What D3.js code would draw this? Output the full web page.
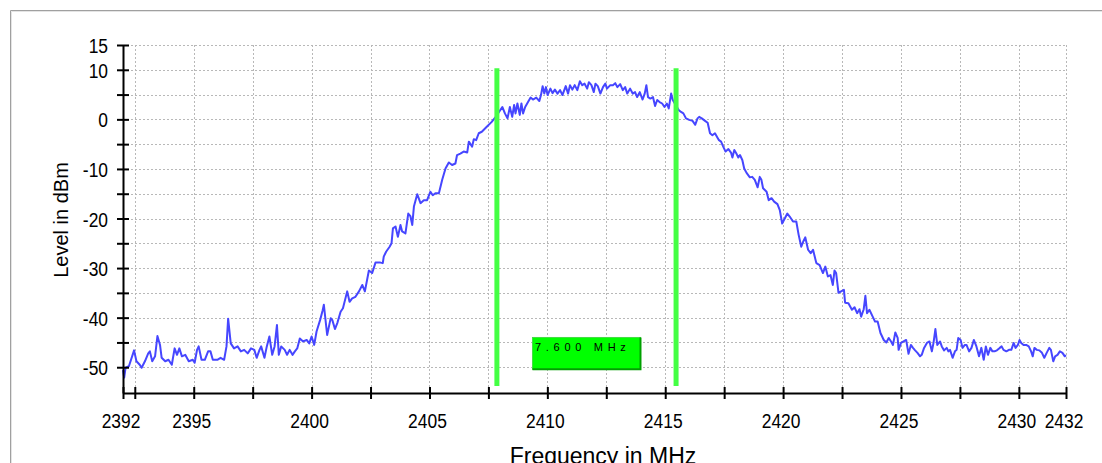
<!DOCTYPE html>
<html><head><meta charset="utf-8">
<script src="https://cdn.jsdelivr.net/npm/d3@7/dist/d3.min.js"></script>
<style>html,body{margin:0;padding:0;background:#fff;overflow:hidden}</style>
</head><body><svg id="c" width="1102" height="463"></svg>
<script>
// ---- data ----
const trace = [
[2392.00,-50.6],[2392.05,-52.1],[2392.11,-50.1],[2392.25,-49.8],[2392.47,-46.6],[2392.57,-48.8],[2392.71,-49.5],[2392.79,-50.1],[2392.93,-48.8],[2393.07,-47.2],[2393.14,-46.8],[2393.24,-48.8],[2393.36,-47.8],[2393.46,-43.7],[2393.57,-45.5],[2393.64,-48.1],[2393.79,-48.8],[2393.93,-48.5],[2394.07,-49.5],[2394.19,-46.2],[2394.29,-47.5],[2394.39,-46.2],[2394.50,-47.8],[2394.64,-47.5],[2394.79,-48.8],[2394.96,-48.5],[2395.04,-49.1],[2395.14,-46.5],[2395.21,-45.8],[2395.33,-48.5],[2395.47,-48.5],[2395.61,-46.8],[2395.71,-46.8],[2395.81,-48.5],[2396.00,-48.5],[2396.14,-48.1],[2396.29,-48.5],[2396.39,-45.8],[2396.46,-40.2],[2396.57,-45.2],[2396.71,-46.2],[2396.86,-45.8],[2397.00,-46.8],[2397.14,-46.5],[2397.29,-47.2],[2397.43,-46.2],[2397.57,-46.5],[2397.67,-48.1],[2397.79,-46.5],[2397.86,-45.8],[2398.00,-48.1],[2398.10,-45.8],[2398.21,-43.8],[2398.33,-47.5],[2398.43,-45.8],[2398.53,-41.5],[2398.61,-47.5],[2398.71,-45.8],[2398.86,-46.5],[2398.96,-47.5],[2399.07,-46.5],[2399.19,-47.5],[2399.29,-46.8],[2399.39,-46.2],[2399.50,-44.2],[2399.64,-44.8],[2399.79,-44.5],[2399.90,-45.2],[2400.00,-43.8],[2400.11,-45.5],[2400.21,-42.8],[2400.36,-40.5],[2400.47,-38.5],
[2400.52,-37.4],[2400.66,-43.5],[2400.81,-40.1],[2400.88,-40.5],[2400.99,-42.3],[2401.09,-41.1],[2401.23,-38.8],[2401.33,-38.1],[2401.51,-34.7],[2401.61,-36.8],[2401.72,-36.1],[2401.86,-35.8],[2402.01,-34.7],[2402.15,-33.4],[2402.26,-34.7],[2402.43,-30.5],[2402.57,-31.0],[2402.71,-28.9],[2402.92,-28.9],[2403.02,-29.0],[2403.06,-27.7],[2403.16,-26.7],[2403.31,-25.7],[2403.39,-25.0],[2403.45,-22.0],[2403.56,-21.6],[2403.66,-23.7],[2403.77,-21.3],[2403.84,-22.6],[2403.98,-23.0],[2404.10,-19.0],[2404.19,-19.5],[2404.27,-21.3],[2404.34,-17.6],[2404.48,-15.1],[2404.62,-16.9],[2404.76,-16.3],[2404.90,-16.3],[2405.04,-14.6],[2405.14,-15.3],[2405.25,-14.9],[2405.40,-14.9],[2405.54,-12.2],[2405.68,-9.9],[2405.82,-8.7],[2405.96,-9.2],[2406.10,-8.9],[2406.17,-7.2],[2406.31,-6.9],[2406.45,-6.5],[2406.60,-6.7],[2406.67,-4.5],[2406.81,-5.5],[2406.88,-4.0],[2406.98,-4.2],[2407.09,-2.8],
[2407.22,-2.5],[2407.43,-1.5],[2407.64,-0.5],[2407.81,0.5],[2408.09,2.5],[2408.20,1.2],[2408.31,0.2],[2408.41,2.5],[2408.51,0.5],[2408.59,2.9],[2408.65,1.2],[2408.73,3.2],[2408.83,0.9],[2408.90,3.2],[2408.97,1.2],[2409.06,2.5],[2409.18,3.5],[2409.29,4.4],[2409.39,4.0],[2409.53,4.4],[2409.66,3.7],[2409.73,4.9],[2409.80,6.7],[2409.87,5.2],[2409.94,6.5],[2410.01,4.9],[2410.13,6.2],[2410.22,5.3],[2410.32,6.0],[2410.43,5.2],[2410.54,5.9],[2410.64,4.9],[2410.78,6.7],[2410.88,5.2],[2410.96,6.9],[2411.06,6.0],[2411.16,6.9],[2411.27,5.9],[2411.38,7.7],[2411.48,6.9],[2411.58,7.2],[2411.69,6.2],[2411.76,7.5],[2411.87,6.9],[2411.97,5.5],[2412.04,7.2],[2412.14,6.7],[2412.25,5.2],[2412.36,6.5],[2412.46,7.2],[2412.53,6.2],[2412.67,6.9],[2412.78,6.9],[2412.88,7.3],[2412.97,6.5],[2413.09,7.1],[2413.20,5.9],[2413.30,6.5],[2413.39,5.2],[2413.51,6.2],[2413.62,5.2],[2413.72,5.5],[2413.81,4.5],[2413.92,5.5],[2414.04,4.0],[2414.13,5.2],[2414.20,6.9],[2414.27,4.5],[2414.37,4.2],[2414.48,4.5],[2414.57,2.7],[2414.66,3.9],[2414.76,3.5],[2414.87,3.2],[2414.97,2.5],[2415.07,3.2],[2415.15,2.2],[2415.25,5.2],[2415.32,3.9],[2415.57,1.9],[2415.67,1.5],[2415.77,1.2],[2415.88,0.2],[2416.02,-0.1],[2416.16,-0.3],[2416.27,-1.1],[2416.37,0.2],
[2416.44,0.5],[2416.55,0.2],[2416.69,-0.3],[2416.80,-0.7],[2416.90,-2.8],[2417.00,-3.2],[2417.11,-2.8],[2417.23,-3.8],[2417.28,-4.2],[2417.37,-4.5],[2417.46,-5.5],[2417.56,-6.5],[2417.68,-6.0],[2417.79,-6.7],[2417.85,-7.7],[2417.93,-6.2],[2418.03,-7.0],[2418.10,-7.7],[2418.17,-7.2],[2418.27,-8.2],[2418.35,-9.9],[2418.45,-10.8],[2418.59,-11.7],[2418.69,-11.6],[2418.80,-12.2],[2418.92,-13.7],[2419.01,-11.6],[2419.08,-12.2],[2419.15,-13.9],[2419.30,-14.6],[2419.39,-16.3],[2419.51,-15.9],[2419.62,-16.6],[2419.76,-17.1],[2419.86,-18.3],[2419.96,-21.0],[2420.07,-20.0],[2420.18,-19.0],[2420.28,-19.6],[2420.42,-20.6],[2420.56,-20.6],[2420.66,-23.3],[2420.77,-25.7],[2420.85,-24.7],[2420.94,-23.8],[2421.06,-26.3],[2421.17,-27.0],[2421.27,-26.3],[2421.41,-29.0],[2421.55,-29.4],[2421.69,-31.0],[2421.79,-29.7],[2421.90,-31.7],[2422.01,-31.4],[2422.11,-33.4],[2422.18,-30.5],[2422.25,-31.0],[2422.35,-35.0],[2422.46,-34.7],[2422.58,-34.4],[2422.63,-37.0],[2422.77,-37.1],[2422.92,-38.4],[2423.03,-37.9],[2423.14,-39.1],[2423.24,-38.3],[2423.31,-39.8],[2423.42,-38.3],[2423.49,-35.6],[2423.56,-39.1],[2423.66,-38.4],[2423.80,-39.8],[2423.90,-40.8],[2424.01,-40.8],[2424.13,-43.1],
[2424.27,-44.5],[2424.38,-45.0],[2424.48,-44.1],[2424.58,-44.8],[2424.66,-45.5],[2424.76,-43.0],[2424.86,-44.1],[2424.90,-46.5],[2425.00,-45.1],[2425.11,-44.8],[2425.22,-44.5],[2425.32,-47.3],[2425.42,-45.5],[2425.51,-46.1],[2425.60,-46.6],[2425.70,-47.1],[2425.81,-47.8],[2425.88,-47.5],[2425.98,-46.1],[2426.10,-45.1],[2426.21,-44.8],[2426.31,-46.8],[2426.38,-45.1],[2426.46,-42.3],[2426.54,-45.5],[2426.66,-44.8],[2426.73,-45.8],[2426.83,-46.6],[2426.94,-46.1],[2427.01,-46.8],[2427.08,-46.5],[2427.19,-48.1],[2427.29,-46.8],[2427.36,-46.5],[2427.43,-44.1],[2427.53,-44.5],[2427.61,-46.1],[2427.71,-45.5],[2427.78,-45.5],[2427.89,-46.8],[2427.99,-46.1],[2428.09,-44.5],[2428.20,-45.8],[2428.31,-47.8],[2428.41,-46.1],[2428.51,-48.5],[2428.60,-45.8],[2428.69,-47.5],[2428.79,-46.1],[2428.88,-46.8],[2428.97,-46.8],[2429.07,-46.6],[2429.19,-46.1],[2429.27,-45.8],[2429.35,-46.5],[2429.47,-46.8],[2429.58,-46.5],[2429.68,-46.5],[2429.78,-45.1],[2429.86,-46.1],[2429.96,-45.5],[2430.03,-44.5],[2430.10,-45.1],[2430.20,-45.5],[2430.31,-45.5],[2430.42,-45.8],[2430.52,-46.8],[2430.59,-47.8],[2430.66,-46.1],[2430.76,-46.5],[2430.87,-46.6],[2430.98,-47.1],[2431.08,-48.1],[2431.18,-47.1],[2431.29,-46.1],[2431.36,-46.5],[2431.46,-48.8],[2431.54,-47.8],[2431.64,-47.5],[2431.74,-46.8],[2431.85,-47.1],[2431.95,-47.8],[2432.00,-47.6]
];
const xDomain = [2392, 2432];
const yDomain = [-55.2, 15];
const xTickValues = [2392, 2392.5, 2395, 2397.5, 2400, 2402.5, 2405, 2407.5, 2410, 2412.5, 2415, 2417.5, 2420, 2422.5, 2425, 2427.5, 2430, 2432];
const xTickLabels = [2392, 2395, 2400, 2405, 2410, 2415, 2420, 2425, 2430, 2432];
const yTickValues = [-50, -45, -40, -35, -30, -25, -20, -15, -10, -5, 0, 5, 10, 15];
const yTickLabels = [15, 10, 0, -10, -20, -30, -40, -50];
const markerFreqs = [2407.86, 2415.46];
const markerLevels = [10.3, -53.8];
const bandLabel = "7.600 MHz";
const bandLabelLevels = [-44.0, -50.4];
const xTitle = "Frequency in MHz";
const yTitle = "Level in dBm";

// ---- drawing ----
const svg = d3.select("#c");
svg.append("rect").attr("width",1102).attr("height",463).attr("fill","#fff");
// outer frame
svg.append("path").attr("d","M10.5,463V10.5H1102").attr("fill","none").attr("stroke","#a0a0a0");
svg.append("path").attr("d","M11.5,463V11.5H1102").attr("fill","none").attr("stroke","#e4e4e4");

const x = d3.scaleLinear().domain(xDomain).range([123, 1066]);
const y = d3.scaleLinear().domain(yDomain).range([393, 45]);

// grid
const grid = svg.append("g").attr("stroke","#b8b8b8").attr("stroke-width",1).attr("stroke-dasharray","2,2");
grid.selectAll("line.h").data(yTickValues).join("line")
  .attr("x1", x(xDomain[0])).attr("x2", x(xDomain[1]))
  .attr("y1", d => Math.round(y(d)) + 0.5).attr("y2", d => Math.round(y(d)) + 0.5);
grid.selectAll("line.v").data(xTickValues.filter(d => d !== xDomain[0])).join("line")
  .attr("x1", d => Math.round(x(d)) + 0.5).attr("x2", d => Math.round(x(d)) + 0.5)
  .attr("y1", y(yDomain[1])).attr("y2", y(yDomain[0]));

// trace
const line = d3.line().x(d => x(d[0])).y(d => y(d[1]));
svg.append("path").datum(trace).attr("d", line)
  .attr("fill","none").attr("stroke","#4646ff").attr("stroke-width",2).attr("stroke-linejoin","round");

// markers
svg.selectAll("line.mk").data(markerFreqs).join("line")
  .attr("x1", d => x(d)).attr("x2", d => x(d))
  .attr("y1", y(markerLevels[0])).attr("y2", y(markerLevels[1]))
  .attr("stroke","#44ff44").attr("stroke-width",5);

// band label box
const cx = x((markerFreqs[0] + markerFreqs[1]) / 2);
const by0 = y(bandLabelLevels[0]), by1 = y(bandLabelLevels[1]);
const bw = 108;
svg.append("rect").attr("x", cx - bw/2).attr("y", by0).attr("width", bw).attr("height", by1 - by0)
  .attr("fill","#00ff00").attr("stroke","#44dd44").attr("stroke-width",1);
svg.append("path").attr("d", `M${cx - bw/2},${by1} H${cx + bw/2} V${by0}`)
  .attr("fill","none").attr("stroke","#00a000").attr("stroke-width",2);
svg.append("text").attr("x", cx - bw/2 + 2.5).attr("y", by0 + 14)
  .attr("font-family","'Liberation Sans', Arial, sans-serif").attr("font-size",11)
  .attr("letter-spacing","4.7px").attr("fill","#000").text(bandLabel);

// axes (tick digits condensed to match the narrow face of the reference)
const tickFont = "'Liberation Sans', Arial, sans-serif";
const sx = 0.83;
const gy = svg.append("g").attr("transform","translate(123,0)")
  .call(d3.axisLeft(y).tickValues(yTickValues).tickSizeInner(6).tickSizeOuter(0)
    .tickFormat(d => yTickLabels.includes(d) ? String(d) : ""));
gy.select(".domain").attr("stroke","#000").attr("stroke-width",2);
gy.selectAll(".tick line").attr("x1",6).attr("x2",-6).attr("stroke","#000").attr("stroke-width",2);
gy.selectAll(".tick text").attr("x",-15 / sx).attr("dy","0.36em").attr("transform",`scale(${sx},1)`)
  .attr("font-family",tickFont).attr("font-size",21).attr("fill","#000");

const gx = svg.append("g").attr("transform","translate(0,393)")
  .call(d3.axisBottom(x).tickValues(xTickValues).tickSizeInner(6).tickSizeOuter(0)
    .tickFormat(d => xTickLabels.includes(d) ? String(d) : ""));
gx.select(".domain").attr("stroke","#000").attr("stroke-width",2);
gx.selectAll(".tick line").attr("y1",-6).attr("y2",6).attr("stroke","#000").attr("stroke-width",2);
gx.selectAll(".tick text").attr("y",20).attr("dy","0.71em").attr("dx",-2.5 / sx).attr("transform",`scale(${sx},1)`)
  .attr("font-family",tickFont).attr("font-size",21).attr("fill","#000");

// titles
svg.append("text").attr("x", 603).attr("y", 464).attr("text-anchor","middle")
  .attr("font-family","'Liberation Sans', Arial, sans-serif").attr("font-size",23).attr("fill","#000").text(xTitle);
svg.append("text").attr("transform","translate(68,220) rotate(-90)").attr("text-anchor","middle")
  .attr("font-family","'Liberation Sans', Arial, sans-serif").attr("font-size",20).attr("fill","#000").text(yTitle);
</script></body></html>
